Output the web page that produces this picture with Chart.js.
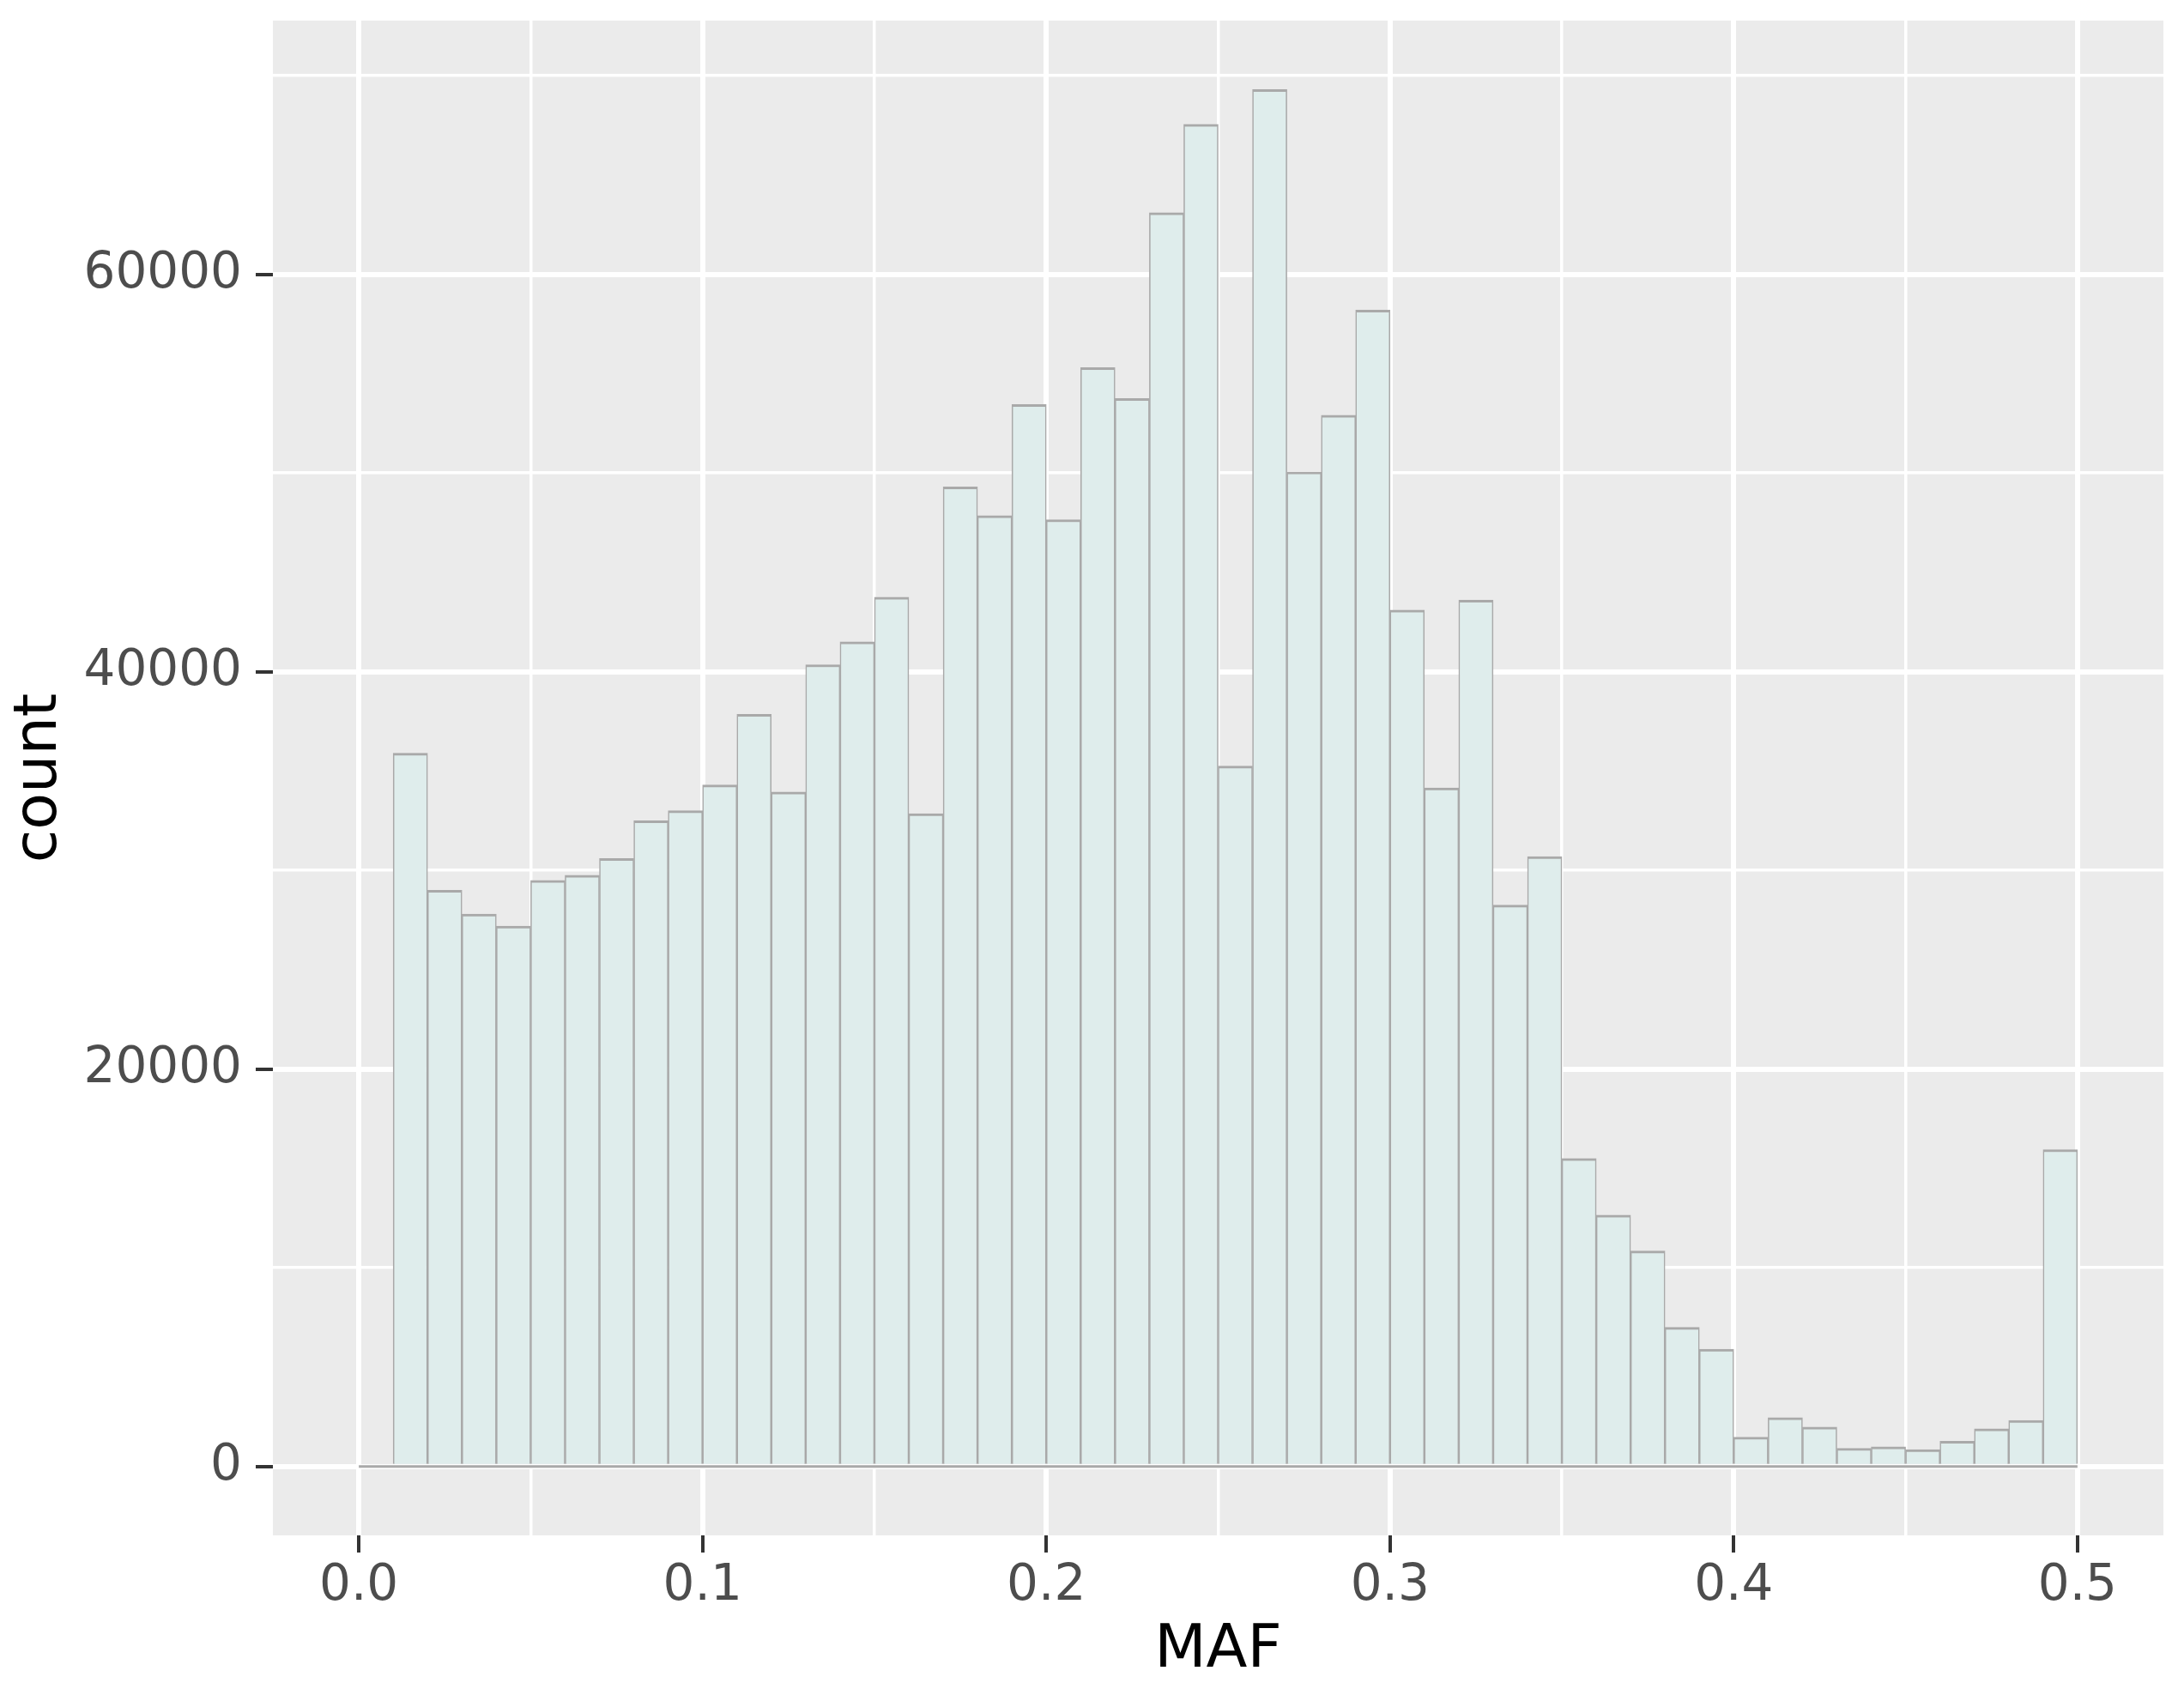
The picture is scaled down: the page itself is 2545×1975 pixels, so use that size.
<!DOCTYPE html>
<html>
<head>
<meta charset="utf-8">
<script src="https://cdn.jsdelivr.net/npm/chart.js@4.4.1/dist/chart.umd.min.js"></script>
<style>
  html, body { margin: 0; padding: 0; background: #ffffff; }
  #wrap { width: 2545px; height: 1975px; }
</style>
</head>
<body>
<div id="wrap"><canvas id="c" width="2545" height="1975"></canvas></div>
<script>
// ---- data ----
const binWidth = 0.01;
const binStarts = [0.00,0.01,0.02,0.03,0.04,0.05,0.06,0.07,0.08,0.09,
                   0.10,0.11,0.12,0.13,0.14,0.15,0.16,0.17,0.18,0.19,
                   0.20,0.21,0.22,0.23,0.24,0.25,0.26,0.27,0.28,0.29,
                   0.30,0.31,0.32,0.33,0.34,0.35,0.36,0.37,0.38,0.39,
                   0.40,0.41,0.42,0.43,0.44,0.45,0.46,0.47,0.48,0.49];
const counts = [0,35900,29000,27800,27200,29500,29750,30600,32500,33000,
                34300,37850,33950,40350,41500,43750,32850,49300,47850,53450,
                47650,55300,53750,63100,67550,35250,69300,50050,52900,58200,
                43100,34150,43600,28250,30700,15500,12650,10850,7000,5900,
                1480,2460,1980,920,990,850,1270,1900,2320,15950];
const xMajorTicks = [0.0,0.1,0.2,0.3,0.4,0.5];
const xMinorTicks = [0.05,0.15,0.25,0.35,0.45];
const yMajorTicks = [0,20000,40000,60000];
const yMinorTicks = [10000,30000,50000,70000];
const xTitle = 'MAF';
const yTitle = 'count';

// ---- derived ----
const barData = binStarts.map((s,i) => ({x: s + binWidth/2, y: counts[i]}));
const baseline = [{x: binStarts[0], y: 0}, {x: binStarts[binStarts.length-1] + binWidth, y: 0}];
const xLo = binStarts[0], xHi = binStarts[binStarts.length-1] + binWidth;
const xPad = (xHi - xLo) * 0.05;
const yMaxData = Math.max(...counts);
const yPad = yMaxData * 0.05;

const isMajorX = v => xMajorTicks.some(t => Math.abs(t - v) < 1e-9);
const isMajorY = v => yMajorTicks.includes(v);
const tv = ctx => (ctx && ctx.tick) ? ctx.tick.value : null;

const fontFam = "'DejaVu Sans', sans-serif";

new Chart(document.getElementById('c'), {
  type: 'bar',
  data: {
    datasets: [
      {
        type: 'bar',
        data: barData,
        backgroundColor: '#DFEDEC',
        borderColor: '#A9A9A9',
        borderWidth: {top: 3, left: 1.6, right: 1.6, bottom: 0},
        borderSkipped: 'start',
        barPercentage: 1.0,
        categoryPercentage: 1.0,
        grouped: false,
        order: 2
      },
      {
        type: 'line',
        data: baseline,
        borderColor: '#A9A9A9',
        borderWidth: 3,
        pointRadius: 0,
        fill: false,
        order: 1
      }
    ]
  },
  options: {
    responsive: false,
    devicePixelRatio: 1,
    animation: false,
    layout: { padding: { top: 24, right: 24, left: 0, bottom: 0 } },
    plugins: {
      legend: { display: false },
      tooltip: { enabled: false }
    },
    scales: {
      x: {
        type: 'linear',
        min: xLo - xPad,
        max: xHi + xPad,
        offset: false,
        afterBuildTicks: s => {
          s.ticks = [...xMajorTicks, ...xMinorTicks].sort((a,b)=>a-b).map(v => ({value: v}));
        },
        afterFit: s => { s.height = 186; s.paddingLeft = 0; s.paddingRight = 0; },
        grid: {
          offset: false,
          color: '#FFFFFF',
          lineWidth: ctx => { const v = tv(ctx); return (v === null || isMajorX(v)) ? 6 : 3.5; },
          drawTicks: true,
          tickLength: 20,
          tickColor: ctx => { const v = tv(ctx); return (v !== null && isMajorX(v)) ? '#333333' : 'rgba(0,0,0,0)'; },
          tickWidth: 4
        },
        border: { display: false },
        ticks: {
          autoSkip: false,
          maxRotation: 0,
          padding: 5,
          color: '#4D4D4D',
          font: { family: fontFam, size: 58 },
          callback: v => isMajorX(v) ? v.toFixed(1) : ''
        },
        title: {
          display: true,
          text: xTitle,
          color: '#000000',
          font: { family: fontFam, size: 70 },
          padding: { top: 0, bottom: 9 }
        }
      },
      y: {
        type: 'linear',
        min: -yPad,
        max: yMaxData + yPad,
        afterBuildTicks: s => {
          s.ticks = [...yMajorTicks, ...yMinorTicks].sort((a,b)=>a-b).map(v => ({value: v}));
        },
        afterFit: s => { s.width = 318; s.paddingTop = 0; s.paddingBottom = 0; },
        grid: {
          offset: false,
          color: '#FFFFFF',
          lineWidth: ctx => { const v = tv(ctx); return (v === null || isMajorY(v)) ? 6 : 3.5; },
          drawTicks: true,
          tickLength: 20,
          tickColor: ctx => { const v = tv(ctx); return (v !== null && isMajorY(v)) ? '#333333' : 'rgba(0,0,0,0)'; },
          tickWidth: 4
        },
        border: { display: false },
        ticks: {
          autoSkip: false,
          padding: 16,
          color: '#4D4D4D',
          font: { family: fontFam, size: 58 },
          callback: v => isMajorY(v) ? String(v) : ''
        },
        title: {
          display: true,
          text: yTitle,
          color: '#000000',
          font: { family: fontFam, size: 70 },
          padding: { top: 5, bottom: 0 }
        }
      }
    }
  },
  plugins: [{
    id: 'panelBg',
    beforeDraw: chart => {
      const {ctx, chartArea: a} = chart;
      ctx.save();
      ctx.fillStyle = '#EBEBEB';
      ctx.fillRect(a.left, a.top, a.right - a.left, a.bottom - a.top);
      ctx.restore();
    }
  }]
});
</script>
</body>
</html>
